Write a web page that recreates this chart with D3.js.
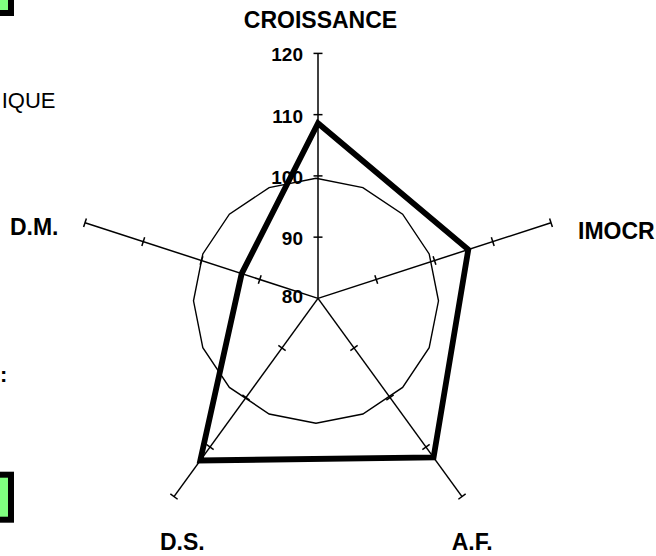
<!DOCTYPE html>
<html>
<head>
<meta charset="utf-8">
<script src="https://cdn.jsdelivr.net/npm/d3@7"></script>
<style>
  html, body { margin: 0; padding: 0; background: #fff; }
  svg { display: block; }
  text { font-family: "Liberation Sans", Arial, sans-serif; fill: #000; }
</style>
</head>
<body>
<script>
// ---- data ----
const categories = ["CROISSANCE", "IMOCR", "A.F.", "D.S.", "D.M."];
const values = [108.6, 105.8, 112.1, 112.7, 93.1];
const tickValues = [80, 90, 100, 110, 120];
const ringValue = 100;
const sideTexts = ["IQUE", ":"];

// ---- layout ----
const W = 656, H = 556;
const cx = 318, cy = 298.4, R = 245;
const svg = d3.select("body").append("svg").attr("width", W).attr("height", H);

const r = d3.scaleLinear().domain([80, 120]).range([0, R]);
const angle = d3.scalePoint().domain(categories.concat(["__end"])).range([0, 2 * Math.PI]);
const pt = (cat, v) => {
  const a = angle(cat);
  return [cx + r(v) * Math.sin(a), cy - r(v) * Math.cos(a)];
};

// cut-off boxes at left edge
svg.append("rect").attr("x", -50).attr("y", -50).attr("width", 61).attr("height", 63)
  .attr("fill", "#80ff80").attr("stroke", "#000").attr("stroke-width", 6);
svg.append("rect").attr("x", -50).attr("y", 474.7).attr("width", 61).attr("height", 45)
  .attr("fill", "#80ff80").attr("stroke", "#000").attr("stroke-width", 6);

svg.append("text").attr("x", 55.5).attr("y", 108.3).attr("text-anchor", "end")
  .style("font-size", "22px").text(sideTexts[0]);
svg.append("text").attr("x", 0).attr("y", 382).attr("text-anchor", "start")
  .style("font-size", "22px").style("font-weight", "bold").text(sideTexts[1]);

// reference ring
const ringN = 16;
const ringData = d3.range(ringN).map(() => ringValue);
svg.append("path")
  .attr("transform", `translate(${cx - 2},${cy + 2.4})`)
  .attr("d", d3.lineRadial()
      .angle((d, i) => Math.PI + i * 2 * Math.PI / ringN)
      .radius(d => r(d))
      .curve(d3.curveLinearClosed)(ringData))
  .attr("fill", "none").attr("stroke", "#000").attr("stroke-width", 1.4);

// axes
const axG = svg.append("g");
categories.forEach(cat => {
  const [x0, y0] = pt(cat, 80);
  const [x1, y1] = pt(cat, 120);
  axG.append("line").attr("x1", x0).attr("y1", y0).attr("x2", x1).attr("y2", y1)
    .attr("stroke", "#000").attr("stroke-width", 1.5);
  const a = angle(cat);
  const px = Math.cos(a), py = Math.sin(a); // perpendicular direction
  tickValues.filter(v => v > 80).forEach(v => {
    const [tx, ty] = pt(cat, v);
    axG.append("line")
      .attr("x1", tx - 4.5 * px).attr("y1", ty - 4.5 * py)
      .attr("x2", tx + 4.5 * px).attr("y2", ty + 4.5 * py)
      .attr("stroke", "#000").attr("stroke-width", 1.5);
  });
});

// tick labels on first axis
tickValues.forEach(v => {
  const [tx, ty] = pt(categories[0], v);
  svg.append("text").attr("x", tx - 15).attr("y", ty + (v === 80 ? 4.5 : 8))
    .attr("text-anchor", "end")
    .style("font-size", "19px").style("font-weight", "bold")
    .text(v);
});

// data polygon
svg.append("path")
  .attr("d", d3.line().curve(d3.curveLinearClosed)(categories.map((c, i) => pt(c, values[i]))))
  .attr("fill", "none").attr("stroke", "#000").attr("stroke-width", 5.8)
  .attr("stroke-linejoin", "miter").attr("stroke-miterlimit", 10);

// category labels
const labelLayout = [
  { dx: 2.5, dy: -25, anchor: "middle" },
  { dx: 27, dy: 16.6, anchor: "start" },
  { dx: -10.3, dy: 53.5, anchor: "start" },
  { dx: -14, dy: 53.5, anchor: "start" },
  { dx: -26.5, dy: 12.3, anchor: "end" }
];
categories.forEach((cat, i) => {
  const [ex, ey] = pt(cat, 120);
  svg.append("text")
    .attr("x", ex + labelLayout[i].dx).attr("y", ey + labelLayout[i].dy)
    .attr("text-anchor", labelLayout[i].anchor)
    .style("font-size", "23px").style("font-weight", "bold")
    .text(cat);
});
</script>
</body>
</html>
